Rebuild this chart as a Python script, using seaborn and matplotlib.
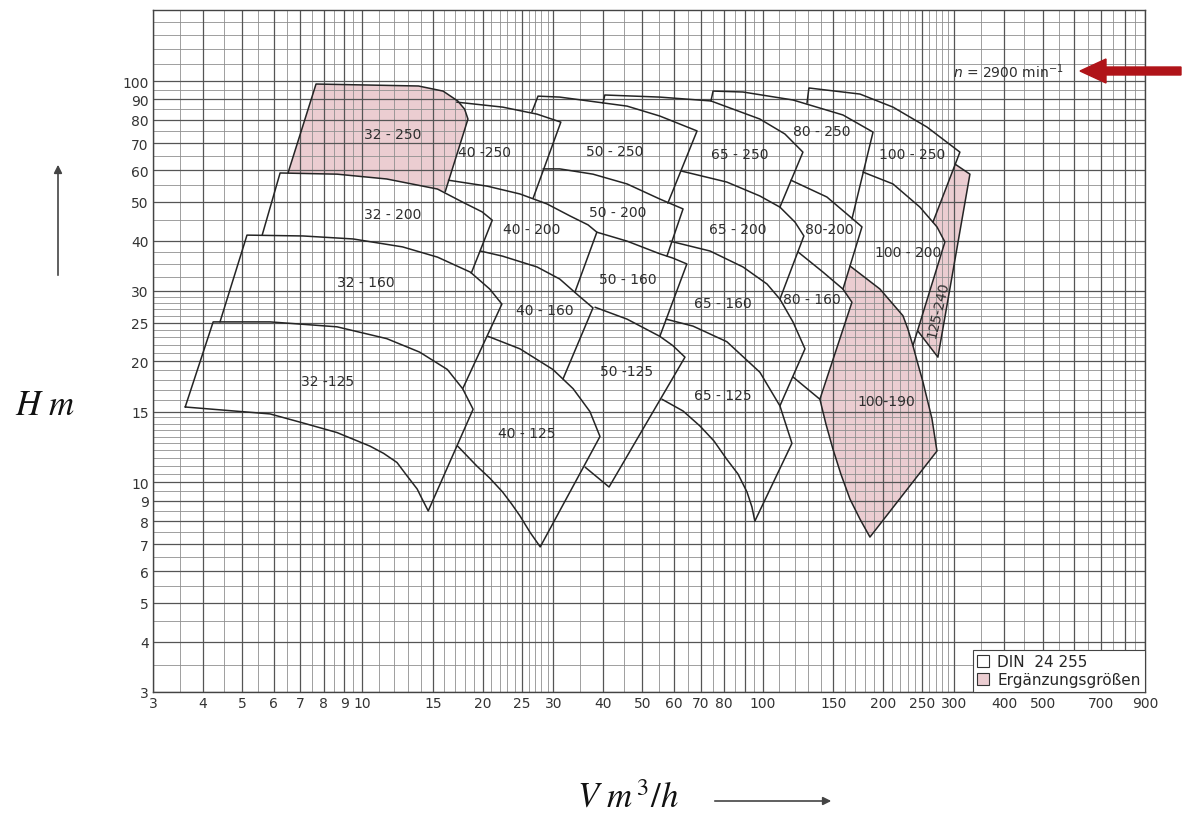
import matplotlib
matplotlib.use("Agg")
import matplotlib.pyplot as plt
from matplotlib.patches import FancyArrow, Patch
from matplotlib.ticker import NullLocator
import pandas as pd
import seaborn as sns

# ---------------- axes ----------------
Q_LIM = (3, 900)
H_LIM = (3, 150)
q_ticks = [3, 4, 5, 6, 7, 8, 9, 10, 15, 20, 25, 30, 40, 50, 60, 70, 80, 100,
           150, 200, 250, 300, 400, 500, 700, 900]
h_ticks = [3, 4, 5, 6, 7, 8, 9, 10, 15, 20, 25, 30, 40, 50, 60, 70, 80, 90, 100]

q_grid_major = [3, 4, 5, 6, 7, 8, 9, 10, 15, 20, 25, 30, 40, 50, 60, 70, 80, 90,
                100, 150, 200, 250, 300, 400, 500, 600, 700, 800, 900]
q_grid_minor = [3.5, 4.5, 5.5, 6.5, 7.5, 8.5, 9.5, 11, 12, 13, 14, 16, 17, 18, 19,
                21, 22, 23, 24, 26, 27, 28, 29, 35, 45, 55, 65, 75, 85, 95,
                110, 120, 130, 140, 160, 170, 180, 190, 210, 220, 230, 240,
                260, 270, 280, 290, 350, 450, 550, 650, 750, 850]
h_grid_major = [3, 4, 5, 6, 7, 8, 9, 10, 15, 20, 25, 30, 40, 50, 60, 70, 80, 90, 100]
h_grid_minor = [3.5, 4.5, 5.5, 6.5, 7.5, 8.5, 9.5, 10.5, 11, 11.5, 12, 12.5, 13,
                13.5, 14, 14.5, 16, 17, 18, 19, 21, 22, 23, 24, 26, 27, 28, 29,
                32.5, 35, 37.5, 45, 55, 65, 75, 85, 95, 110, 120, 130, 140]

# ---------------- pump tiles (Q in m3/h, H in m) ----------------
# top_*: upper head curve, end: lower end of the right edge,
# bot_*: lower boundary drawn from there, left: start of a visible left edge,
# rim_*: boundary shared with neighbouring tiles (fill only)
t32_125 = dict(name="32 -125", lab=(8.2, 17.9), left=(3.61, 15.4),
               top_q=[4.24, 5.88, 8.64, 11.5, 13.9, 16.3, 17.8, 18.9],
               top_h=[25.1, 25.1, 24.4, 22.8, 21.1, 19.1, 17.1, 15.2],
               end=(14.6, 8.48),
               bot_q=[14.1, 13.7, 12.9, 12.2, 11.3, 10.45, 8.64, 7.11, 5.88, 3.61],
               bot_h=[9.08, 9.62, 10.4, 11.2, 11.8, 12.3, 13.3, 14.05, 14.8, 15.4])
t32_160 = dict(name="32 - 160", lab=(10.2, 31.6), left=(4.41, 25.1),
               top_q=[5.15, 7.11, 9.48, 12.6, 15.4, 18.6, 20.8, 22.3],
               top_h=[41.3, 41.1, 40.4, 38.6, 36.4, 33.4, 30.3, 27.8],
               end=(17.8, 17.1))
t32_200 = dict(name="32 - 200", lab=(11.9, 46.6), left=(5.62, 41.3),
               top_q=[6.23, 8.64, 11.5, 15.4, 17.8, 19.9, 21.1],
               top_h=[59.0, 58.6, 57.0, 53.8, 49.9, 47.2, 45.0],
               end=(18.7, 33.2))
t32_250 = dict(name="32 - 250", lab=(11.9, 73.8), left=(6.52, 59.0), pink=True,
               top_q=[7.66, 13.8, 15.9, 17.3, 18.0, 18.35],
               top_h=[98.3, 97.2, 94.4, 89.2, 85.1, 80.4],
               end=(16.1, 53.0),
               rim_q=[15.4, 11.5, 8.64], rim_h=[53.8, 57.0, 58.6])

t40_125 = dict(name="40 - 125", lab=(25.8, 13.3),
               top_q=[20.6, 24.75, 29.9, 33.6, 37.0, 39.2],
               top_h=[23.1, 21.5, 19.1, 17.1, 15.0, 13.0],
               end=(27.8, 6.90),
               bot_q=[26.2, 24.75, 23.6, 22.4, 20.8, 19.3, 17.3],
               bot_h=[7.51, 8.24, 8.82, 9.45, 10.24, 10.98, 12.3])
t40_160 = dict(name="40 - 160", lab=(28.6, 26.9),
               top_q=[19.7, 22.4, 27.3, 31.1, 34.5, 37.65],
               top_h=[37.7, 36.6, 34.4, 32.1, 29.3, 27.2],
               end=(31.7, 18.1))
t40_200 = dict(name="40 - 200", lab=(26.5, 42.8),
               top_q=[16.4, 20.5, 24.75, 28.9, 33.0, 36.6, 38.5],
               top_h=[56.6, 54.7, 52.3, 49.4, 46.1, 43.8, 42.0],
               end=(33.95, 29.8))
t40_250 = dict(name="40 -250", lab=(20.2, 66.5),
               top_q=[17.2, 22.4, 27.3, 31.3],
               top_h=[88.6, 86.1, 82.7, 79.0],
               end=(26.7, 51.1))

t50_125 = dict(name="50 -125", lab=(45.8, 18.9),
               top_q=[38.1, 45.8, 55.3, 59.6, 63.9],
               top_h=[27.3, 25.5, 23.1, 21.9, 20.5],
               end=(41.3, 9.73), bot_q=[36.0], bot_h=[10.9])
t50_160 = dict(name="50 - 160", lab=(46.0, 32.1),
               top_q=[38.5, 45.8, 55.3, 59.6, 64.6],
               top_h=[42.0, 39.9, 37.1, 36.2, 35.0],
               end=(55.3, 23.1))
t50_200 = dict(name="50 - 200", lab=(43.5, 47.2),
               top_q=[28.25, 31.1, 37.65, 45.8, 55.3, 63.2],
               top_h=[60.4, 60.4, 58.6, 55.4, 50.8, 48.0],
               end=(57.6, 36.6))
t50_250 = dict(name="50 - 250", lab=(42.7, 66.9), left=(26.5, 83.7),
               top_q=[27.45, 31.1, 45.8, 55.3, 68.5],
               top_h=[91.7, 91.2, 86.6, 81.8, 75.1],
               end=(57.9, 49.6))

t65_125 = dict(name="65 - 125", lab=(79.5, 16.5),
               top_q=[57.3, 66.9, 81.3, 98.3, 110.3, 118.2],
               top_h=[25.5, 24.5, 22.4, 18.8, 15.5, 12.5],
               end=(95.5, 8.0),
               bot_q=[93.9, 91.3, 86.7, 81.3, 75.5, 69.7, 63.2, 56.0],
               bot_h=[8.68, 9.45, 10.48, 11.4, 12.67, 13.8, 15.05, 16.1])
t65_160 = dict(name="65 - 160", lab=(79.5, 28.0),
               top_q=[58.6, 73.8, 89.2, 102.4, 110.3, 118.9, 127.4],
               top_h=[39.9, 37.7, 34.4, 31.2, 28.6, 25.1, 21.5],
               end=(110.3, 15.5))
t65_200 = dict(name="65 - 200", lab=(86.7, 42.8),
               top_q=[62.4, 81.3, 98.3, 110.3, 120.3, 126.6],
               top_h=[59.7, 56.0, 51.7, 48.5, 44.5, 41.1],
               end=(110.3, 28.6))
t65_250 = dict(name="65 - 250", lab=(87.6, 65.8), left=(39.9, 88.1),
               top_q=[40.3, 55.3, 74.2, 98.3, 113.5, 125.9],
               top_h=[92.3, 91.2, 89.2, 80.4, 73.8, 66.5],
               end=(110.3, 48.5))

t80_160 = dict(name="80 - 160", lab=(132.6, 28.6),
               top_q=[122.4, 141.3, 158.5, 166.9],
               top_h=[37.5, 33.4, 30.3, 28.1],
               end=(138.8, 16.1), bot_q=[118.9], bot_h=[18.3])
t80_200 = dict(name="80-200", lab=(147.0, 42.8),
               top_q=[117.5, 144.5, 162.2, 176.8],
               top_h=[56.6, 51.4, 46.6, 43.3],
               end=(158.5, 30.3))
t80_250 = dict(name="80 - 250", lab=(140.4, 75.1), left=(74.2, 89.2),
               top_q=[75.1, 89.2, 118.9, 158.5, 188.4],
               top_h=[94.4, 93.9, 89.7, 82.3, 74.6],
               end=(166.9, 45.3))

t100_190 = dict(name="100-190", lab=(203.0, 15.9), pink=True,
                top_q=[165.0, 196.1, 223.8, 230.2, 237.0, 243.9, 251.0, 264.4, 272.1],
                top_h=[34.6, 30.3, 26.0, 24.1, 21.9, 19.7, 17.8, 14.4, 11.96],
                end=(185.1, 7.30),
                bot_q=[174.8, 165.0, 156.6, 149.6, 143.7, 138.8],
                bot_h=[8.09, 9.08, 10.48, 12.1, 13.97, 16.1],
                rim_q=[166.9, 158.5], rim_h=[28.1, 30.3])
t100_200 = dict(name="100 - 200", lab=(230.0, 37.5),
                top_q=[177.8, 211.3, 246.7, 272.1, 284.8],
                top_h=[59.3, 55.4, 48.5, 43.3, 39.7],
                end=(237.0, 21.9))
t100_250 = dict(name="100 - 250", lab=(235.6, 65.8), left=(128.9, 88.1),
                top_q=[130.3, 174.8, 211.3, 256.9, 310.5],
                top_h=[96.1, 92.8, 86.1, 76.8, 66.5],
                end=(265.9, 44.5))
t125_240 = dict(name="125-240", lab=(273.6, 27.0), rot=77, pink=True,
                top_q=[301.8, 328.9], top_h=[62.1, 58.6],
                end=(273.6, 20.5), bot_q=[243.9], bot_h=[23.8],
                rim_q=[284.8, 272.1, 265.9], rim_h=[39.7, 43.3, 44.5])

TILES = [t32_125, t32_160, t32_200, t32_250,
         t40_125, t40_160, t40_200, t40_250,
         t50_125, t50_160, t50_200, t50_250,
         t65_125, t65_160, t65_200, t65_250,
         t80_160, t80_200, t80_250,
         t100_190, t100_200, t100_250, t125_240]

legend_labels = ["DIN  24 255", "Ergänzungsgrößen"]
speed_note = r"$n$ = 2900 min$^{-1}$"

PINK = "#ebcdd1"
EDGE = "#252525"
TEXT = "#2e2e2e"


def outline(t):
    q, h = [], []
    if "left" in t:
        q.append(t["left"][0])
        h.append(t["left"][1])
    q += t["top_q"]
    h += t["top_h"]
    q.append(t["end"][0])
    h.append(t["end"][1])
    q += t.get("bot_q", [])
    h += t.get("bot_h", [])
    return q, h


sns.set_theme(style="white")
plt.rcParams["font.family"] = ["DejaVu Sans"]

W, H = 1183, 820
fig = plt.figure(figsize=(W / 100, H / 100), dpi=100)
ax = fig.add_axes([153 / W, (H - 693) / H, 992 / W, 681.6 / H])
ax.set_xscale("log")
ax.set_yscale("log")
ax.set_xlim(*Q_LIM)
ax.set_ylim(*H_LIM)

# shaded supplementary sizes
for t in TILES:
    if t.get("pink"):
        q, h = outline(t)
        q = q + t.get("rim_q", [])
        h = h + t.get("rim_h", [])
        ax.fill(q, h, color=PINK, lw=0, zorder=1)

# log paper grid
ax.vlines(q_grid_minor, *H_LIM, colors="#8f8f8f", lw=0.6, zorder=2)
ax.hlines(h_grid_minor, *Q_LIM, colors="#8f8f8f", lw=0.6, zorder=2)
ax.vlines(q_grid_major, *H_LIM, colors="#555555", lw=0.9, zorder=2)
ax.hlines(h_grid_major, *Q_LIM, colors="#555555", lw=0.9, zorder=2)

# tile outlines
rows = []
for i, t in enumerate(TILES):
    q, h = outline(t)
    rows += [(i, a, b) for a, b in zip(q, h)]
df = pd.DataFrame(rows, columns=["seg", "Q", "H"])
sns.lineplot(data=df, x="Q", y="H", units="seg", estimator=None, sort=False,
             color=EDGE, linewidth=1.1, legend=False, ax=ax, zorder=3)

for t in TILES:
    ax.text(t["lab"][0], t["lab"][1], t["name"], ha="center", va="center",
            fontsize=10, color=TEXT, rotation=t.get("rot", 0), zorder=4)

ax.set_xlabel("")
ax.set_ylabel("")
ax.set_xticks(q_ticks)
ax.set_xticklabels([str(v) for v in q_ticks])
ax.set_yticks(h_ticks)
ax.set_yticklabels([str(v) for v in h_ticks])
ax.xaxis.set_minor_locator(NullLocator())
ax.yaxis.set_minor_locator(NullLocator())
ax.tick_params(length=0, pad=3, labelsize=10, colors="#333333")
for s in ax.spines.values():
    s.set_color("#444444")
    s.set_linewidth(1.0)

handles = [Patch(facecolor="white", edgecolor="#333333", lw=0.8),
           Patch(facecolor=PINK, edgecolor="#333333", lw=0.8)]
leg = ax.legend(handles, legend_labels, loc="lower right", bbox_to_anchor=(1, 0),
                borderaxespad=0, fancybox=False, framealpha=1, edgecolor="#444444",
                fontsize=11, handlelength=0.8, handleheight=0.8, handletextpad=0.5,
                labelspacing=0.2, borderpad=0.3)
leg.get_frame().set_linewidth(0.8)
leg.set_zorder(6)

# speed note and marker arrow
fig.text(953 / W, 1 - 72 / H, speed_note, fontsize=10, color=TEXT,
         ha="left", va="center", math_fontfamily="dejavusans")
fig.add_artist(FancyArrow(1181 / W, 1 - 72 / H, -101 / W, 0, width=8 / H,
                          head_width=24 / H, head_length=26 / W,
                          length_includes_head=True, color="#b01419",
                          transform=fig.transFigure))

# axis titles with direction arrows
fig.text(45 / W, 1 - 405 / H, r"$H\ m$", fontsize=25, ha="center", va="center",
         color="#111111", math_fontfamily="stix")
fig.text(628 / W, 1 - 798 / H, r"$V\ m^{\,3}/h$", fontsize=25, ha="center",
         va="center", color="#111111", math_fontfamily="stix")
ax.annotate("", xy=(58 / W, 1 - 163 / H), xytext=(58 / W, 1 - 279 / H),
            xycoords="figure fraction",
            arrowprops=dict(arrowstyle="-|>", color="#444444", lw=1.2,
                            mutation_scale=12))
ax.annotate("", xy=(834 / W, 1 - 802 / H), xytext=(712 / W, 1 - 802 / H),
            xycoords="figure fraction",
            arrowprops=dict(arrowstyle="-|>", color="#444444", lw=1.2,
                            mutation_scale=12))

fig.savefig("out.png", dpi=100)
